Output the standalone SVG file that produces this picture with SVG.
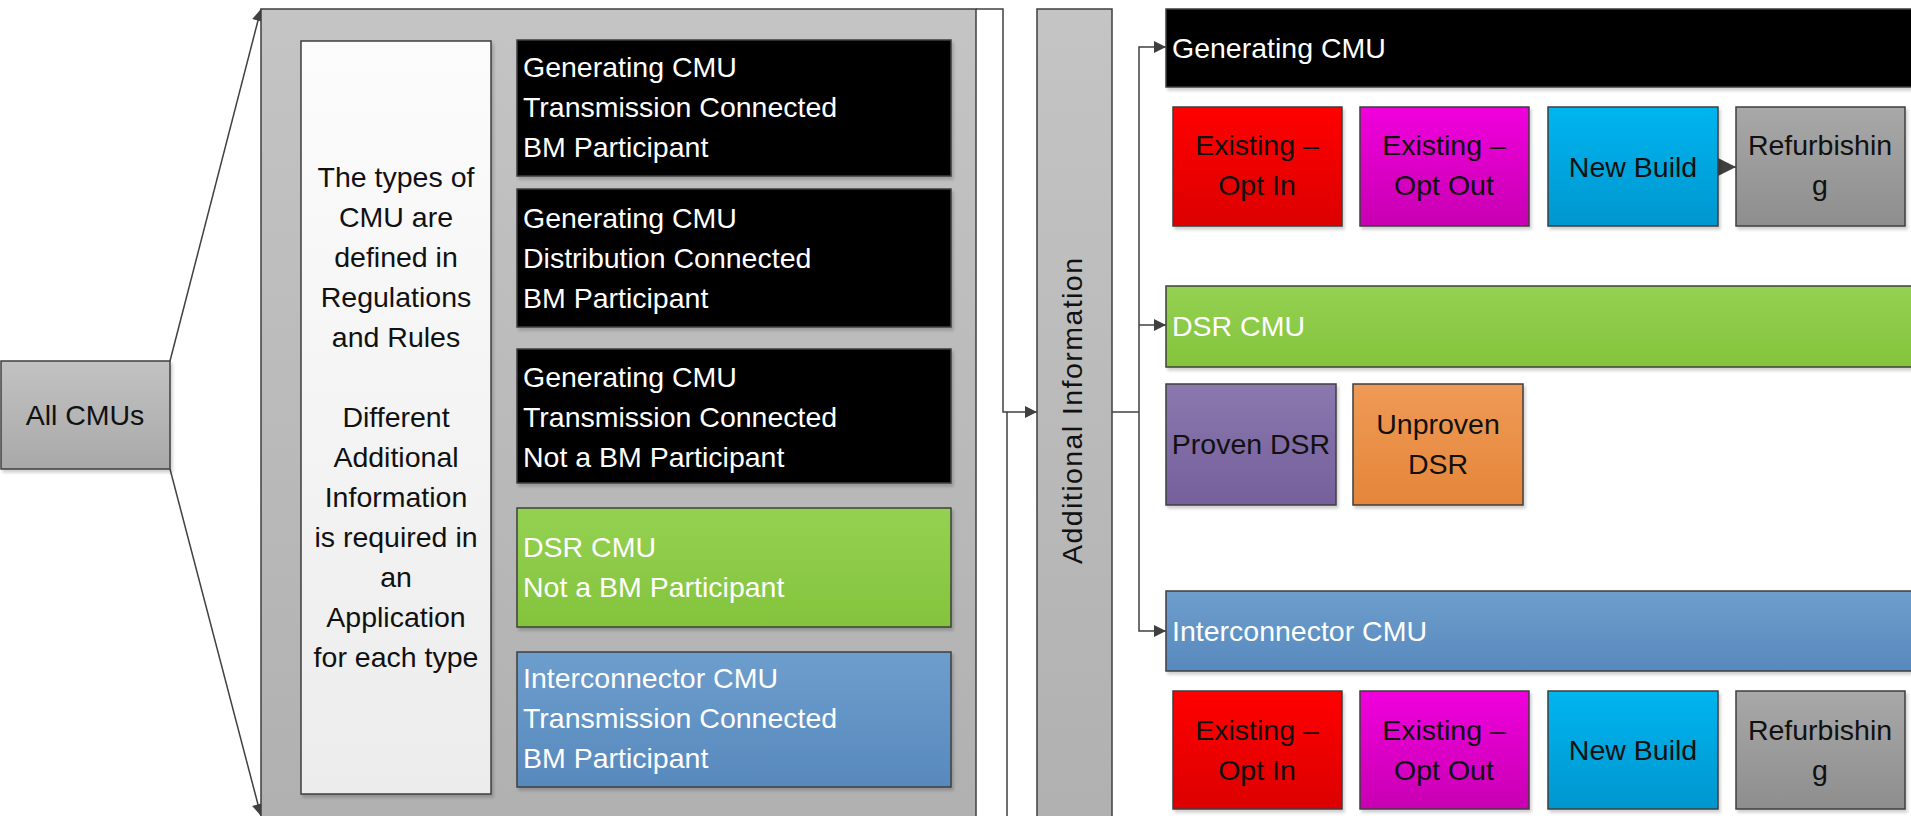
<svg xmlns="http://www.w3.org/2000/svg" width="1911" height="816" viewBox="0 0 1911 816">
<defs>
  <linearGradient id="gPanel" x1="0" y1="0" x2="0" y2="1"><stop offset="0" stop-color="#c4c4c4"/><stop offset="1" stop-color="#b0b0b0"/></linearGradient>
  <linearGradient id="gAll" x1="0" y1="0" x2="0" y2="1"><stop offset="0" stop-color="#c2c2c2"/><stop offset="1" stop-color="#a9a9a9"/></linearGradient>
  <linearGradient id="gWhite" x1="0" y1="0" x2="0" y2="1"><stop offset="0" stop-color="#fcfcfc"/><stop offset="1" stop-color="#ececec"/></linearGradient>
  <linearGradient id="gGreen" x1="0" y1="0" x2="0" y2="1"><stop offset="0" stop-color="#94d152"/><stop offset="1" stop-color="#84c43c"/></linearGradient>
  <linearGradient id="gBlue" x1="0" y1="0" x2="0" y2="1"><stop offset="0" stop-color="#6d9ecd"/><stop offset="1" stop-color="#5889bd"/></linearGradient>
  <linearGradient id="gRed" x1="0" y1="0" x2="0" y2="1"><stop offset="0" stop-color="#ff0000"/><stop offset="1" stop-color="#dc0000"/></linearGradient>
  <linearGradient id="gMag" x1="0" y1="0" x2="0" y2="1"><stop offset="0" stop-color="#f000dc"/><stop offset="1" stop-color="#c800b2"/></linearGradient>
  <linearGradient id="gCyan" x1="0" y1="0" x2="0" y2="1"><stop offset="0" stop-color="#00b5ef"/><stop offset="1" stop-color="#0096cf"/></linearGradient>
  <linearGradient id="gGray" x1="0" y1="0" x2="0" y2="1"><stop offset="0" stop-color="#a8a8a8"/><stop offset="1" stop-color="#8e8e8e"/></linearGradient>
  <linearGradient id="gPurple" x1="0" y1="0" x2="0" y2="1"><stop offset="0" stop-color="#8a78ae"/><stop offset="1" stop-color="#76609c"/></linearGradient>
  <linearGradient id="gOrange" x1="0" y1="0" x2="0" y2="1"><stop offset="0" stop-color="#ef9a56"/><stop offset="1" stop-color="#e5863a"/></linearGradient>
  <filter id="sh" x="-5%" y="-5%" width="112%" height="115%">
    <feDropShadow dx="2" dy="3" stdDeviation="1.5" flood-color="#000" flood-opacity="0.18"/>
  </filter>
  <marker id="arr" viewBox="0 0 10 10" refX="10" refY="5" markerWidth="13" markerHeight="12" markerUnits="userSpaceOnUse" orient="auto">
    <path d="M0,0 L10,5 L0,10 z" fill="#404040"/>
  </marker>
  <marker id="arrL" viewBox="0 0 10 10" refX="10" refY="5" markerWidth="18" markerHeight="22" markerUnits="userSpaceOnUse" orient="auto">
    <path d="M0,0 L10,5 L0,10 z" fill="#404040"/>
  </marker>
</defs>
<style>
  .bx{stroke:#3f3f3f;stroke-width:1.5}
  .t{font-family:"Liberation Sans",Arial,sans-serif;font-size:28.5px}
  .w{fill:#ffffff}
  .k{fill:#111111}
  .c{text-anchor:middle}
  .conn{fill:none;stroke:#404040;stroke-width:1.5}
</style>

<g id="connectors">
  <path class="conn" d="M170,361 L261,9" marker-end="url(#arr)"/>
  <path class="conn" d="M170,469 L261,816" marker-end="url(#arr)"/>
  <path class="conn" d="M976,9 H1003 V412 H1037" marker-end="url(#arr)"/>
  <path class="conn" d="M976,830 H1007 V412"/>
  <path class="conn" d="M1112,412 H1139"/>
  <path class="conn" d="M1139,412 V47 H1166" marker-end="url(#arr)"/>
  <path class="conn" d="M1139,412 V631 H1166" marker-end="url(#arr)"/>
  <path class="conn" d="M1139,325 H1166" marker-end="url(#arr)"/>
  <path class="conn" d="M1719,167 H1736" stroke-width="0" marker-end="url(#arrL)"/>
</g>

<g id="all-cmus">
  <rect class="bx" x="1" y="361" width="169" height="108" fill="url(#gAll)" filter="url(#sh)"/>
  <text class="t k c" x="85" y="425">All CMUs</text>
</g>

<g id="types-panel">
  <rect class="bx" x="261" y="9" width="715" height="830" fill="url(#gPanel)"/>
</g>

<g id="types-note">
  <rect class="bx" x="301" y="41" width="190" height="753" fill="url(#gWhite)" filter="url(#sh)"/>
  <text class="t k c" x="396" y="187">The types of</text>
  <text class="t k c" x="396" y="227">CMU are</text>
  <text class="t k c" x="396" y="267">defined in</text>
  <text class="t k c" x="396" y="307">Regulations</text>
  <text class="t k c" x="396" y="347">and Rules</text>
  <text class="t k c" x="396" y="427">Different</text>
  <text class="t k c" x="396" y="467">Additional</text>
  <text class="t k c" x="396" y="507">Information</text>
  <text class="t k c" x="396" y="547">is required in</text>
  <text class="t k c" x="396" y="587">an</text>
  <text class="t k c" x="396" y="627">Application</text>
  <text class="t k c" x="396" y="667">for each type</text>
</g>

<g id="gen-tc-bm">
  <rect class="bx" x="517" y="40" width="434" height="136" fill="#000" filter="url(#sh)"/>
  <text class="t w" x="523" y="77">Generating CMU</text>
  <text class="t w" x="523" y="117">Transmission Connected</text>
  <text class="t w" x="523" y="157">BM Participant</text>
</g>

<g id="gen-dc-bm">
  <rect class="bx" x="517" y="189" width="434" height="138" fill="#000" filter="url(#sh)"/>
  <text class="t w" x="523" y="228">Generating CMU</text>
  <text class="t w" x="523" y="268">Distribution Connected</text>
  <text class="t w" x="523" y="308">BM Participant</text>
</g>

<g id="gen-tc-nbm">
  <rect class="bx" x="517" y="349" width="434" height="134" fill="#000" filter="url(#sh)"/>
  <text class="t w" x="523" y="387">Generating CMU</text>
  <text class="t w" x="523" y="427">Transmission Connected</text>
  <text class="t w" x="523" y="467">Not a BM Participant</text>
</g>

<g id="dsr-nbm">
  <rect class="bx" x="517" y="508" width="434" height="119" fill="url(#gGreen)" filter="url(#sh)"/>
  <text class="t w" x="523" y="557">DSR CMU</text>
  <text class="t w" x="523" y="597">Not a BM Participant</text>
</g>

<g id="ic-tc-bm">
  <rect class="bx" x="517" y="652" width="434" height="135" fill="url(#gBlue)" filter="url(#sh)"/>
  <text class="t w" x="523" y="688">Interconnector CMU</text>
  <text class="t w" x="523" y="728">Transmission Connected</text>
  <text class="t w" x="523" y="768">BM Participant</text>
</g>

<g id="additional-info">
  <rect class="bx" x="1037" y="9" width="75" height="830" fill="url(#gPanel)"/>
  <text class="t k c" transform="translate(1082,411) rotate(-90)" x="0" y="0" textLength="306" lengthAdjust="spacing">Additional Information</text>
</g>

<g id="gen-bar">
  <rect class="bx" x="1166" y="9" width="760" height="78" fill="#000" filter="url(#sh)"/>
  <text class="t w" x="1172" y="58">Generating CMU</text>
</g>
<g id="gen-opt-in">
  <rect class="bx" x="1173" y="107" width="169" height="119" fill="url(#gRed)" filter="url(#sh)"/>
  <text class="t k c" x="1257" y="155">Existing –</text>
  <text class="t k c" x="1257" y="195">Opt In</text>
</g>
<g id="gen-opt-out">
  <rect class="bx" x="1360" y="107" width="169" height="119" fill="url(#gMag)" filter="url(#sh)"/>
  <text class="t k c" x="1444" y="155">Existing –</text>
  <text class="t k c" x="1444" y="195">Opt Out</text>
</g>
<g id="gen-new-build">
  <rect class="bx" x="1548" y="107" width="170" height="119" fill="url(#gCyan)" filter="url(#sh)"/>
  <text class="t k c" x="1633" y="177">New Build</text>
</g>
<g id="gen-refurb">
  <rect class="bx" x="1736" y="107" width="169" height="119" fill="url(#gGray)" filter="url(#sh)"/>
  <text class="t k c" x="1820" y="155">Refurbishin</text>
  <text class="t k c" x="1820" y="195">g</text>
</g>

<g id="dsr-bar">
  <rect class="bx" x="1166" y="286" width="760" height="81" fill="url(#gGreen)" filter="url(#sh)"/>
  <text class="t w" x="1172" y="336">DSR CMU</text>
</g>
<g id="proven-dsr">
  <rect class="bx" x="1166" y="384" width="170" height="121" fill="url(#gPurple)" filter="url(#sh)"/>
  <text class="t k c" x="1251" y="454">Proven DSR</text>
</g>
<g id="unproven-dsr">
  <rect class="bx" x="1353" y="384" width="170" height="121" fill="url(#gOrange)" filter="url(#sh)"/>
  <text class="t k c" x="1438" y="434">Unproven</text>
  <text class="t k c" x="1438" y="474">DSR</text>
</g>

<g id="ic-bar">
  <rect class="bx" x="1166" y="591" width="760" height="80" fill="url(#gBlue)" filter="url(#sh)"/>
  <text class="t w" x="1172" y="641">Interconnector CMU</text>
</g>
<g id="ic-opt-in">
  <rect class="bx" x="1173" y="691" width="169" height="118" fill="url(#gRed)" filter="url(#sh)"/>
  <text class="t k c" x="1257" y="740">Existing –</text>
  <text class="t k c" x="1257" y="780">Opt In</text>
</g>
<g id="ic-opt-out">
  <rect class="bx" x="1360" y="691" width="169" height="118" fill="url(#gMag)" filter="url(#sh)"/>
  <text class="t k c" x="1444" y="740">Existing –</text>
  <text class="t k c" x="1444" y="780">Opt Out</text>
</g>
<g id="ic-new-build">
  <rect class="bx" x="1548" y="691" width="170" height="118" fill="url(#gCyan)" filter="url(#sh)"/>
  <text class="t k c" x="1633" y="760">New Build</text>
</g>
<g id="ic-refurb">
  <rect class="bx" x="1736" y="691" width="169" height="118" fill="url(#gGray)" filter="url(#sh)"/>
  <text class="t k c" x="1820" y="740">Refurbishin</text>
  <text class="t k c" x="1820" y="780">g</text>
</g>
</svg>
